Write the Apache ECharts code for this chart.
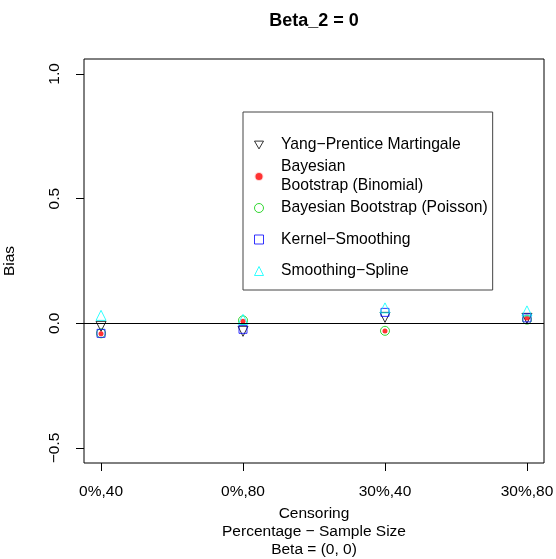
<!DOCTYPE html>
<html>
<head>
<meta charset="utf-8">
<title>Beta_2 = 0</title>
<script src="https://cdn.jsdelivr.net/npm/echarts@6/dist/echarts.min.js"></script>
<style>
  html, body { margin: 0; padding: 0; background: #fff; }
  #chart { width: 556px; height: 559px; }
</style>
</head>
<body>
<div id="chart"></div>
<script>
// x positions 1..4, one per censoring / sample size setting
const positions = [1, 2, 3, 4]
const categories = ['0%,40', '0%,80', '30%,40', '30%,80']
const yTicks = [-0.5, 0, 0.5, 1.0]

// bias per method
const yangPrentice = [-0.012, -0.032, 0.024, 0.02]
const bbBinomial = [-0.042, 0.008, -0.031, 0.021]
const bbPoisson = [-0.04, 0.012, -0.03, 0.015]
const kernelSmoothing = [-0.04, -0.024, 0.044, 0.022]
const smoothingSpline = [0.032, 0.016, 0.062, 0.05]

const FONT = 'Liberation Sans, Arial, Helvetica, sans-serif'
const FS = 15.5

const downTriangle = 'path://M0,0L10,0L5,8.66Z'

function pts(values) {
  return positions.map((x, i) => [x, values[i]])
}

const chart = echarts.init(document.getElementById('chart'), null, { renderer: 'canvas' })

chart.setOption({
  animation: false,
  backgroundColor: '#fff',
  textStyle: { fontFamily: FONT, color: '#000' },
  title: {
    text: 'Beta_2 = 0',
    left: 314,
    top: 12,
    padding: 0,
    textAlign: 'center',
    textStyle: { fontFamily: FONT, fontSize: 18, fontWeight: 'bold', color: '#000' }
  },
  grid: {
    left: 84,
    right: 12,
    top: 59,
    bottom: 96,
    outerBoundsMode: 'none',
    containLabel: false,
    show: true,
    borderColor: '#000',
    borderWidth: 1,
    backgroundColor: 'transparent'
  },
  legend: {
    orient: 'vertical',
    left: 243,
    top: 112,
    padding: [14, 5, 0, 10.5],
    itemGap: -6.5,
    itemWidth: 9,
    itemHeight: 9,
    selectedMode: false,
    backgroundColor: '#fff',
    borderColor: '#444',
    borderWidth: 1,
    borderRadius: 0,
    textStyle: {
      fontFamily: FONT,
      fontSize: 15.7,
      color: '#000',
      lineHeight: 38,
      padding: [0, 0, 0, 12.5]
    },
    data: [
      { name: 'Yang−Prentice Martingale', icon: downTriangle, itemStyle: { color: 'rgba(0,0,0,0)', borderColor: '#000', borderWidth: 1 } },
      { name: 'Bayesian\nBootstrap (Binomial)', icon: 'circle', itemStyle: { color: '#ff0000', borderColor: '#fff', borderWidth: 2 }, textStyle: { lineHeight: 19 } },
      { name: 'Bayesian Bootstrap (Poisson)', icon: 'circle', itemStyle: { color: 'rgba(0,0,0,0)', borderColor: '#00cd00', borderWidth: 1 } },
      { name: 'Kernel−Smoothing', icon: 'rect', itemStyle: { color: 'rgba(0,0,0,0)', borderColor: '#0000ff', borderWidth: 1 } },
      { name: 'Smoothing−Spline', icon: 'triangle', itemStyle: { color: 'rgba(0,0,0,0)', borderColor: '#00ffff', borderWidth: 1 } }
    ]
  },
  xAxis: {
    type: 'value',
    min: 0.88,
    max: 4.12,
    splitLine: { show: false },
    axisLine: { show: false, onZero: false },
    axisTick: {
      show: true,
      customValues: positions,
      length: 8,
      lineStyle: { color: '#000' }
    },
    axisLabel: {
      customValues: positions,
      margin: 21,
      fontFamily: FONT,
      fontSize: FS,
      color: '#000',
      formatter: v => categories[positions.indexOf(Math.round(v))] || ''
    },
    name: 'Censoring\nPercentage − Sample Size\nBeta = (0, 0)',
    nameLocation: 'middle',
    nameGap: 38,
    nameTextStyle: { fontFamily: FONT, fontSize: FS, color: '#000', lineHeight: 18 }
  },
  yAxis: {
    type: 'value',
    min: -0.56,
    max: 1.06,
    splitLine: { show: false },
    axisLine: { show: false, onZero: false },
    axisTick: {
      show: true,
      customValues: yTicks,
      length: 8,
      lineStyle: { color: '#000' }
    },
    axisLabel: {
      customValues: yTicks,
      rotate: 90,
      margin: 21,
      fontFamily: FONT,
      fontSize: FS,
      color: '#000',
      formatter: v => (v < 0 ? '−' : '') + Math.abs(v).toFixed(1)
    },
    name: 'Bias',
    nameLocation: 'middle',
    nameRotate: 90,
    nameGap: 66,
    nameTextStyle: { fontFamily: FONT, fontSize: FS, color: '#000' }
  },
  series: [
    {
      // holds only the horizontal reference line at zero
      name: 'zero',
      type: 'line',
      data: [],
      silent: true,
      markLine: {
        silent: true,
        symbol: ['none', 'none'],
        label: { show: false },
        lineStyle: { color: '#000', type: 'solid', width: 1 },
        data: [{ yAxis: 0 }]
      }
    },
    {
      name: 'Yang−Prentice Martingale',
      type: 'scatter',
      symbol: 'triangle',
      symbolRotate: 180,
      symbolSize: 10,
      itemStyle: { color: 'rgba(0,0,0,0)', borderColor: '#000', borderWidth: 1 },
      data: pts(yangPrentice)
    },
    {
      name: 'Bayesian\nBootstrap (Binomial)',
      type: 'scatter',
      symbol: 'circle',
      symbolSize: 5,
      itemStyle: { color: '#ff0000' },
      data: pts(bbBinomial)
    },
    {
      name: 'Bayesian Bootstrap (Poisson)',
      type: 'scatter',
      symbol: 'circle',
      symbolSize: 9,
      itemStyle: { color: 'rgba(0,0,0,0)', borderColor: '#00cd00', borderWidth: 1 },
      data: pts(bbPoisson)
    },
    {
      name: 'Kernel−Smoothing',
      type: 'scatter',
      symbol: 'rect',
      symbolSize: 8,
      itemStyle: { color: 'rgba(0,0,0,0)', borderColor: '#0000ff', borderWidth: 1 },
      data: pts(kernelSmoothing)
    },
    {
      name: 'Smoothing−Spline',
      type: 'scatter',
      symbol: 'triangle',
      symbolSize: 10,
      itemStyle: { color: 'rgba(0,0,0,0)', borderColor: '#00ffff', borderWidth: 1 },
      data: pts(smoothingSpline)
    }
  ]
})
</script>
</body>
</html>
